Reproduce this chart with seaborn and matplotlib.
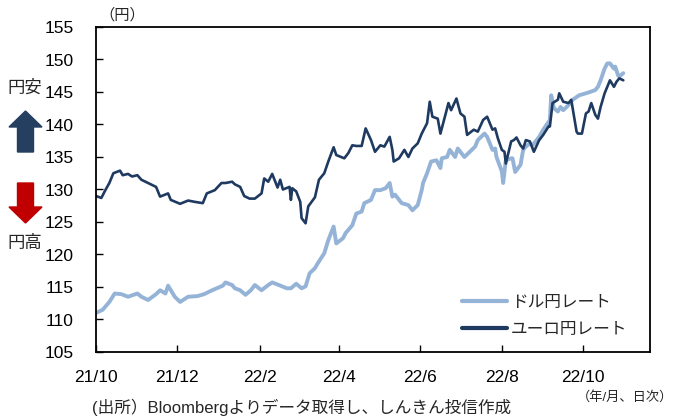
import matplotlib
matplotlib.use("Agg")
import matplotlib.pyplot as plt
import matplotlib.dates as mdates
from matplotlib.patches import FancyArrow
import pandas as pd
import seaborn as sns

# USD/JPY
usd_dates = [
    "2021-10-01", "2021-10-06", "2021-10-11", "2021-10-15", "2021-10-20", "2021-10-25",
    "2021-11-01", "2021-11-04", "2021-11-09", "2021-11-15", "2021-11-18", "2021-11-22",
    "2021-11-24", "2021-11-29", "2021-12-03", "2021-12-09", "2021-12-16", "2021-12-21",
    "2021-12-27", "2022-01-04", "2022-01-06", "2022-01-11", "2022-01-13", "2022-01-17",
    "2022-01-21", "2022-01-25", "2022-01-28", "2022-02-02", "2022-02-07", "2022-02-10",
    "2022-02-15", "2022-02-21", "2022-02-24", "2022-02-28", "2022-03-04", "2022-03-07",
    "2022-03-10", "2022-03-14", "2022-03-16", "2022-03-21", "2022-03-24", "2022-03-28",
    "2022-03-30", "2022-04-04", "2022-04-06", "2022-04-11", "2022-04-14", "2022-04-18",
    "2022-04-20", "2022-04-25", "2022-04-28", "2022-05-02", "2022-05-06", "2022-05-09",
    "2022-05-11", "2022-05-13", "2022-05-18", "2022-05-23", "2022-05-26", "2022-05-30",
    "2022-06-02", "2022-06-03", "2022-06-06", "2022-06-09", "2022-06-13", "2022-06-16",
    "2022-06-17", "2022-06-21", "2022-06-23", "2022-06-27", "2022-06-29", "2022-07-04",
    "2022-07-07", "2022-07-12", "2022-07-14", "2022-07-19", "2022-07-21", "2022-07-25",
    "2022-07-27", "2022-07-28", "2022-08-01", "2022-08-02", "2022-08-04", "2022-08-08",
    "2022-08-09", "2022-08-11", "2022-08-15", "2022-08-17", "2022-08-19", "2022-08-22",
    "2022-08-24", "2022-08-29", "2022-09-01", "2022-09-05", "2022-09-06", "2022-09-07",
    "2022-09-09", "2022-09-12", "2022-09-14", "2022-09-16", "2022-09-20", "2022-09-23",
    "2022-09-28", "2022-10-03", "2022-10-06", "2022-10-10", "2022-10-12", "2022-10-14",
    "2022-10-17", "2022-10-19", "2022-10-21", "2022-10-24", "2022-10-25", "2022-10-27",
    "2022-10-28", "2022-10-31",
]
usd_values = [
    111.0, 111.5, 112.7, 114.0, 113.9, 113.5,
    114.0, 113.5, 113.0, 113.9, 114.5, 114.0,
    115.2, 113.5, 112.7, 113.5, 113.6, 113.9,
    114.5, 115.2, 115.7, 115.3, 114.8, 114.5,
    113.8, 114.5, 115.3, 114.5, 115.3, 115.7,
    115.3, 114.8, 114.8, 115.5, 114.8, 115.1,
    117.1, 117.9, 118.6, 120.2, 122.2, 124.3,
    121.7, 122.5, 123.3, 124.5, 126.3, 126.6,
    127.9, 128.4, 129.9, 129.9, 130.2, 131.0,
    128.9, 129.2, 127.9, 127.6, 126.8, 127.6,
    129.9, 131.0, 132.5, 134.3, 134.5, 133.3,
    134.8, 135.0, 136.1, 135.0, 136.3, 135.0,
    135.6, 136.6, 137.6, 138.6, 138.1, 136.1,
    136.3, 135.0, 132.8, 131.0, 134.5, 134.8,
    134.8, 132.7, 133.8, 136.1, 136.6, 137.1,
    136.8, 138.1, 139.2, 140.4, 140.7, 144.5,
    142.5, 142.0, 142.7, 142.2, 143.0, 143.8,
    144.5, 144.8, 145.0, 145.3, 145.8, 146.8,
    148.6, 149.4, 149.4, 148.6, 148.9, 147.6,
    147.4, 147.9,
]

# EUR/JPY
eur_dates = [
    "2021-10-01", "2021-10-05", "2021-10-08", "2021-10-11", "2021-10-14", "2021-10-19",
    "2021-10-21", "2021-10-25", "2021-10-28", "2021-11-01", "2021-11-04", "2021-11-09",
    "2021-11-15", "2021-11-18", "2021-11-24", "2021-11-26", "2021-12-03", "2021-12-09",
    "2021-12-14", "2021-12-20", "2021-12-23", "2021-12-29", "2022-01-03", "2022-01-06",
    "2022-01-11", "2022-01-13", "2022-01-17", "2022-01-20", "2022-01-24", "2022-01-28",
    "2022-02-02", "2022-02-04", "2022-02-07", "2022-02-10", "2022-02-14", "2022-02-16",
    "2022-02-18", "2022-02-23", "2022-02-24", "2022-02-25", "2022-02-28", "2022-03-03",
    "2022-03-04", "2022-03-07", "2022-03-09", "2022-03-14", "2022-03-17", "2022-03-21",
    "2022-03-24", "2022-03-28", "2022-03-30", "2022-04-05", "2022-04-08", "2022-04-11",
    "2022-04-14", "2022-04-18", "2022-04-21", "2022-04-25", "2022-04-28", "2022-05-02",
    "2022-05-05", "2022-05-09", "2022-05-11", "2022-05-12", "2022-05-16", "2022-05-20",
    "2022-05-23", "2022-05-26", "2022-05-30", "2022-06-02", "2022-06-06", "2022-06-08",
    "2022-06-10", "2022-06-14", "2022-06-16", "2022-06-20", "2022-06-22", "2022-06-24",
    "2022-06-28", "2022-07-01", "2022-07-04", "2022-07-06", "2022-07-11", "2022-07-14",
    "2022-07-18", "2022-07-21", "2022-07-25", "2022-07-27", "2022-07-29", "2022-08-01",
    "2022-08-03", "2022-08-04", "2022-08-08", "2022-08-10", "2022-08-12", "2022-08-15",
    "2022-08-17", "2022-08-19", "2022-08-22", "2022-08-25", "2022-08-29", "2022-09-01",
    "2022-09-05", "2022-09-06", "2022-09-08", "2022-09-12", "2022-09-13", "2022-09-16",
    "2022-09-20", "2022-09-22", "2022-09-26", "2022-09-27", "2022-09-30", "2022-10-03",
    "2022-10-05", "2022-10-07", "2022-10-10", "2022-10-12", "2022-10-14", "2022-10-17",
    "2022-10-19", "2022-10-21", "2022-10-24", "2022-10-26", "2022-10-28", "2022-10-31",
]
eur_values = [
    129.0, 128.7, 129.9, 131.0, 132.5, 132.9,
    132.2, 132.4, 132.0, 132.2, 131.5, 131.0,
    130.4, 128.9, 129.4, 128.4, 127.8, 128.3,
    128.1, 127.9, 129.4, 129.9, 131.0, 131.0,
    131.2, 130.8, 130.4, 129.0, 128.6, 128.6,
    129.4, 131.7, 131.2, 132.4, 130.3, 131.5,
    130.0, 130.4, 128.4, 130.2, 129.7, 128.1,
    125.6, 124.8, 127.4, 128.8, 131.5, 132.5,
    134.3, 136.5, 135.3, 134.8, 135.6, 136.8,
    136.7, 136.7, 139.4, 137.6, 135.8, 136.8,
    136.6, 138.1, 136.1, 134.3, 134.8, 136.1,
    135.0, 136.3, 137.1, 138.6, 140.2, 143.5,
    141.2, 140.9, 138.6, 141.7, 143.3, 142.2,
    144.0, 141.7, 141.2, 138.4, 139.2, 138.9,
    140.7, 141.2, 139.2, 139.4, 137.9, 136.1,
    135.8, 134.0, 137.4, 137.6, 138.0, 136.8,
    136.3, 137.6, 137.4, 135.8, 137.6, 138.4,
    139.7, 139.7, 143.3, 143.8, 144.8, 143.5,
    143.3, 143.8, 138.9, 138.6, 138.6, 141.7,
    142.0, 143.3, 141.5, 140.9, 142.7, 144.8,
    145.8, 146.8, 145.8, 146.6, 147.1, 146.8,
]

series_labels = ["ドル円レート", "ユーロ円レート"]
tick_months = [10, 12, 2, 4, 6, 8, 10]

W, H = 674, 419


def main():
    sns.set_theme(style="ticks")
    plt.rcParams["font.family"] = ["Liberation Sans", "Noto Sans CJK JP", "DejaVu Sans"]

    usd = pd.DataFrame({"date": pd.to_datetime(usd_dates), "rate": usd_values})
    eur = pd.DataFrame({"date": pd.to_datetime(eur_dates), "rate": eur_values})

    fig = plt.figure(figsize=(W / 100, H / 100), dpi=100)
    ax = fig.add_axes([96 / W, 1 - 352 / H, (650 - 96) / W, (352 - 27) / H])

    sns.lineplot(data=usd, x="date", y="rate", ax=ax, color="#95b3d7",
                 linewidth=2.8, label=series_labels[0])
    sns.lineplot(data=eur, x="date", y="rate", ax=ax, color="#1f3a60",
                 linewidth=1.9, label=series_labels[1])

    ax.set_ylim(105, 155)
    ax.set_yticks(range(105, 156, 5))
    ax.set_xlim(pd.Timestamp("2021-10-01"), pd.Timestamp("2022-11-20"))
    ax.xaxis.set_major_locator(mdates.MonthLocator(bymonth=sorted(set(tick_months))))
    ax.xaxis.set_major_formatter(
        plt.FuncFormatter(lambda v, p: f"{mdates.num2date(v).year % 100}/{mdates.num2date(v).month}")
    )
    ax.set_xlabel("")
    ax.set_ylabel("")
    ax.tick_params(axis="both", direction="in", length=5, width=1, colors="black",
                   labelsize=12.5)
    ax.tick_params(axis="x", pad=13)
    ax.tick_params(axis="y", pad=16)
    for s in ax.spines.values():
        s.set_color("black")
        s.set_linewidth(1.3)
        s.set_visible(True)

    leg = ax.legend(loc="lower left", bbox_to_anchor=(0.645, 0.02), frameon=False,
                    fontsize=12, handlelength=2.7, handletextpad=0.25, labelspacing=0.75,
                    borderpad=0)
    for line in leg.get_lines():
        line.set_linewidth(3)

    # annotations outside the axes
    fig.text(99 / W, 1 - 15 / H, "（円）", fontsize=11, va="center", ha="left")
    fig.text(25 / W, 1 - 88 / H, "円安", fontsize=12.5, va="center", ha="center")
    fig.text(25 / W, 1 - 243 / H, "円高", fontsize=12.5, va="center", ha="center")
    fig.patches.append(FancyArrow(25.5 / W, 1 - 152 / H, 0, 41 / H, width=16 / W,
                                  head_width=33 / W, head_length=16 / H,
                                  length_includes_head=True, color="#243f60",
                                  transform=fig.transFigure, figure=fig))
    fig.patches.append(FancyArrow(25.5 / W, 1 - 183 / H, 0, -40 / H, width=16 / W,
                                  head_width=33 / W, head_length=16 / H,
                                  length_includes_head=True, color="#c00000",
                                  transform=fig.transFigure, figure=fig))
    fig.text(92 / W, 1 - 407 / H, "(出所）Bloombergよりデータ取得し、しんきん投信作成",
             fontsize=12, va="center", ha="left")
    fig.text(673 / W, 1 - 397 / H, "（年/月、日次）", fontsize=9.5, va="center", ha="right")

    fig.savefig("out.png", dpi=100)


if __name__ == "__main__":
    main()
